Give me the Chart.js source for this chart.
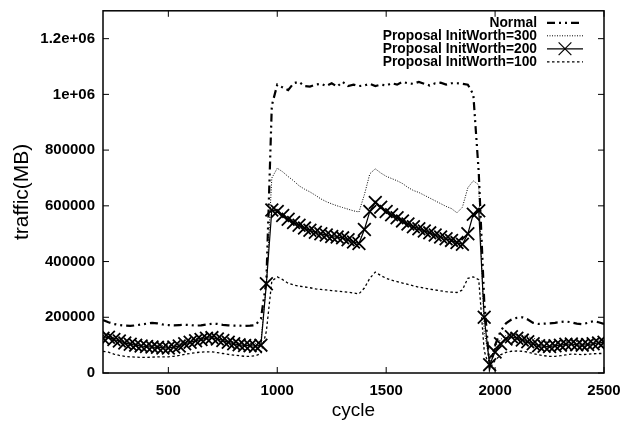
<!DOCTYPE html>
<html>
<head>
<meta charset="utf-8">
<script src="https://cdn.jsdelivr.net/npm/chart.js@4.4.1/dist/chart.umd.min.js"></script>
<style>
  body { margin: 0; background: #fff; }
  #wrap { width: 623px; height: 423px; }
</style>
</head>
<body>
<div id="wrap"><canvas id="trafficChart" width="623" height="423"></canvas></div>
<script>
// Valori: ciclo e traffico (MB) per ogni serie.
const cycles = [
  200, 225, 250, 275, 300, 325, 350, 375, 400, 425, 450, 475, 500, 525, 550, 575,
  600, 625, 650, 675, 700, 725, 750, 775, 800, 825, 850, 875, 900, 925, 950, 975,
  1000, 1025, 1050, 1075, 1100, 1125, 1150, 1175, 1200, 1225, 1250, 1275, 1300, 1325, 1350, 1375,
  1400, 1425, 1450, 1475, 1500, 1525, 1550, 1575, 1600, 1625, 1650, 1675, 1700, 1725, 1750, 1775,
  1800, 1825, 1850, 1875, 1900, 1925, 1950, 1975, 2000, 2025, 2050, 2075, 2100, 2125, 2150, 2175,
  2200, 2225, 2250, 2275, 2300, 2325, 2350, 2375, 2400, 2425, 2450, 2475, 2500,
];

const normal = [
  190000, 182000, 176000, 172000, 170000, 169000, 171000, 174000, 177000, 180000, 178000, 174000, 172000, 171000, 172000, 173000,
  172000, 170000, 171000, 174000, 177000, 176000, 173000, 171000, 170000, 170000, 169000, 170000, 172000, 195000, 330000, 960000,
  1035000, 1025000, 1015000, 1040000, 1045000, 1030000, 1028000, 1035000, 1038000, 1030000, 1040000, 1028000, 1045000, 1030000, 1035000, 1030000,
  1032000, 1038000, 1030000, 1035000, 1032000, 1040000, 1035000, 1045000, 1040000, 1038000, 1045000, 1038000, 1032000, 1040000, 1042000, 1035000,
  1040000, 1040000, 1038000, 1035000, 1000000, 720000, 260000, 20000, 100000, 150000, 178000, 192000, 198000, 200000, 192000, 180000,
  176000, 177000, 178000, 180000, 183000, 185000, 182000, 177000, 175000, 180000, 186000, 182000, 176000,
];

const worth300 = [
  135000, 130000, 127000, 122000, 115000, 110000, 106000, 103000, 101000, 100000, 99000, 98000, 98000, 100000, 104000, 110000,
  116000, 122000, 127000, 130000, 132000, 128000, 122000, 116000, 112000, 109000, 107000, 106000, 106000, 115000, 320000, 700000,
  735000, 722000, 705000, 690000, 672000, 660000, 650000, 638000, 625000, 615000, 607000, 600000, 594000, 588000, 582000, 578000,
  640000, 715000, 733000, 718000, 706000, 698000, 690000, 680000, 666000, 655000, 648000, 638000, 628000, 618000, 608000, 598000,
  590000, 575000, 595000, 665000, 690000, 675000, 150000, 40000, 95000, 120000, 135000, 140000, 138000, 135000, 130000, 125000,
  118000, 113000, 110000, 110000, 112000, 114000, 115000, 113000, 112000, 115000, 118000, 118000, 116000,
];

const worth200 = [
  125000, 128000, 120000, 115000, 108000, 103000, 100000, 97000, 95000, 93000, 92000, 90000, 90000, 93000, 97000, 105000,
  110000, 116000, 120000, 125000, 127000, 122000, 117000, 110000, 105000, 101000, 99000, 98000, 96000, 100000, 320000, 585000,
  580000, 565000, 552000, 540000, 530000, 520000, 512000, 505000, 500000, 495000, 490000, 488000, 485000, 478000, 470000, 465000,
  515000, 580000, 612000, 595000, 580000, 568000, 557000, 546000, 535000, 525000, 518000, 510000, 503000, 495000, 488000, 482000,
  476000, 468000, 462000, 500000, 570000, 582000, 200000, 30000, 75000, 105000, 122000, 130000, 125000, 118000, 112000, 105000,
  98000, 96000, 95000, 98000, 100000, 103000, 104000, 101000, 100000, 102000, 105000, 108000, 110000,
];

const worth100 = [
  78000, 75000, 68000, 63000, 60000, 58000, 57000, 56000, 56000, 57000, 58000, 58000, 58000, 60000, 63000, 67000,
  70000, 73000, 75000, 76000, 76000, 73000, 70000, 67000, 64000, 62000, 60000, 60000, 62000, 70000, 150000, 330000,
  345000, 335000, 322000, 316000, 312000, 309000, 306000, 302000, 300000, 298000, 296000, 294000, 292000, 290000, 287000, 284000,
  305000, 340000, 362000, 350000, 340000, 333000, 328000, 323000, 318000, 313000, 308000, 305000, 301000, 298000, 295000, 292000,
  290000, 289000, 298000, 340000, 345000, 335000, 80000, 15000, 45000, 65000, 74000, 78000, 79000, 78000, 75000, 70000,
  65000, 62000, 60000, 60000, 62000, 65000, 68000, 67000, 66000, 67000, 69000, 70000, 70000,
];

const seriesNames = ["Normal", "Proposal InitWorth=300", "Proposal InitWorth=200", "Proposal InitWorth=100"];
const xTicks = [500, 1000, 1500, 2000, 2500];
const yTicks = [0, 200000, 400000, 600000, 800000, 1000000, 1200000];
const yTickLabels = ["0", "200000", "400000", "600000", "800000", "1e+06", "1.2e+06"];

const FONT = "'Liberation Sans', Arial, Helvetica, sans-serif";

function toPoints(values) {
  return cycles.map((c, i) => ({ x: c, y: values[i] }));
}

// Cornice del grafico e tacche interne su tutti i lati, come in gnuplot.
const framePlugin = {
  id: "frame",
  afterDatasetsDraw(chart) {
    const { ctx, chartArea: a, scales } = chart;
    ctx.save();
    ctx.strokeStyle = "#000";
    ctx.lineWidth = 1.5;
    ctx.strokeRect(a.left, a.top, a.right - a.left, a.bottom - a.top);
    ctx.lineWidth = 1;
    ctx.beginPath();
    yTicks.forEach((v) => {
      const y = scales.y.getPixelForValue(v);
      ctx.moveTo(a.left, y);
      ctx.lineTo(a.left + 6, y);
      ctx.moveTo(a.right, y);
      ctx.lineTo(a.right - 6, y);
    });
    xTicks.forEach((v) => {
      const x = scales.x.getPixelForValue(v);
      ctx.moveTo(x, a.bottom);
      ctx.lineTo(x, a.bottom - 6);
      ctx.moveTo(x, a.top);
      ctx.lineTo(x, a.top + 6);
    });
    ctx.stroke();
    ctx.restore();
  },
};

// Legenda dentro l'area, testo allineato a destra e campione della linea dopo.
const keyPlugin = {
  id: "key",
  afterDraw(chart) {
    const { ctx, chartArea: a } = chart;
    const textRight = a.right - 67;
    ctx.save();
    ctx.font = "bold 13.8px " + FONT;
    ctx.textAlign = "right";
    ctx.textBaseline = "middle";
    ctx.fillStyle = "#000";
    chart.data.datasets.forEach((ds, i) => {
      const y = a.top + 12 + i * 13;
      ctx.fillText(ds.label, textRight, y);
      ctx.strokeStyle = "#000";
      ctx.lineWidth = ds.borderWidth;
      ctx.setLineDash(ds.borderDash || []);
      ctx.beginPath();
      ctx.moveTo(textRight + 10, y);
      ctx.lineTo(textRight + 46, y);
      ctx.stroke();
      ctx.setLineDash([]);
      if (ds.pointRadius > 0) {
        Chart.helpers.drawPoint(ctx, {
          pointStyle: ds.pointStyle,
          radius: ds.pointRadius,
          borderWidth: ds.pointBorderWidth,
          rotation: 0,
        }, textRight + 28, y);
      }
    });
    ctx.restore();
  },
};

function createTrafficChart() {
  const ctx = document.getElementById("trafficChart").getContext("2d");

  new Chart(ctx, {
    type: "line",
    data: {
      datasets: [
        {
          label: seriesNames[0],
          data: toPoints(normal),
          borderColor: "#000",
          borderWidth: 2.2,
          borderDash: [8, 4, 2, 4, 2, 4],
          pointRadius: 0,
        },
        {
          label: seriesNames[1],
          data: toPoints(worth300),
          borderColor: "#000",
          borderWidth: 1,
          borderDash: [1, 1.5],
          pointRadius: 0,
        },
        {
          label: seriesNames[2],
          data: toPoints(worth200),
          borderColor: "#000",
          borderWidth: 1.2,
          pointStyle: "crossRot",
          pointRadius: 9,
          pointBorderWidth: 1.8,
          pointBorderColor: "#000",
          pointBackgroundColor: "#000",
        },
        {
          label: seriesNames[3],
          data: toPoints(worth100),
          borderColor: "#000",
          borderWidth: 1.3,
          borderDash: [2.5, 2.5],
          pointRadius: 0,
        },
      ],
    },
    options: {
      responsive: false,
      animation: false,
      devicePixelRatio: 1,
      layout: { padding: { top: 7, right: 19, bottom: 0, left: 0 } },
      plugins: {
        legend: { display: false },
        tooltip: { enabled: false },
      },
      scales: {
        x: {
          type: "linear",
          min: 200,
          max: 2500,
          afterFit: (scale) => {
            scale.height = 50;
            scale.paddingLeft = 0;
            scale.paddingRight = 0;
          },
          afterBuildTicks: (scale) => { scale.ticks = xTicks.map((v) => ({ value: v })); },
          grid: { display: false, drawTicks: false },
          border: { display: false },
          ticks: {
            color: "#000",
            padding: 9,
            maxRotation: 0,
            font: { family: FONT, size: 15, weight: "bold" },
            callback: (value) => String(value),
          },
          title: {
            display: true,
            text: "cycle",
            color: "#000",
            font: { family: FONT, size: 19 },
            padding: { top: 0, bottom: 1 },
          },
        },
        y: {
          min: 0,
          max: 1300000,
          afterFit: (scale) => {
            scale.width = 103;
            scale.paddingTop = 0;
            scale.paddingBottom = 0;
          },
          afterBuildTicks: (scale) => { scale.ticks = yTicks.map((v) => ({ value: v })); },
          grid: { display: false, drawTicks: false },
          border: { display: false },
          ticks: {
            color: "#000",
            padding: 8,
            font: { family: FONT, size: 15, weight: "bold" },
            callback: (value) => yTickLabels[yTicks.indexOf(value)],
          },
          title: {
            display: true,
            text: "traffic(MB)",
            color: "#000",
            font: { family: FONT, size: 21 },
            padding: { top: 10, bottom: 0 },
          },
        },
      },
    },
    plugins: [framePlugin, keyPlugin],
  });
}

createTrafficChart();
</script>
</body>
</html>
